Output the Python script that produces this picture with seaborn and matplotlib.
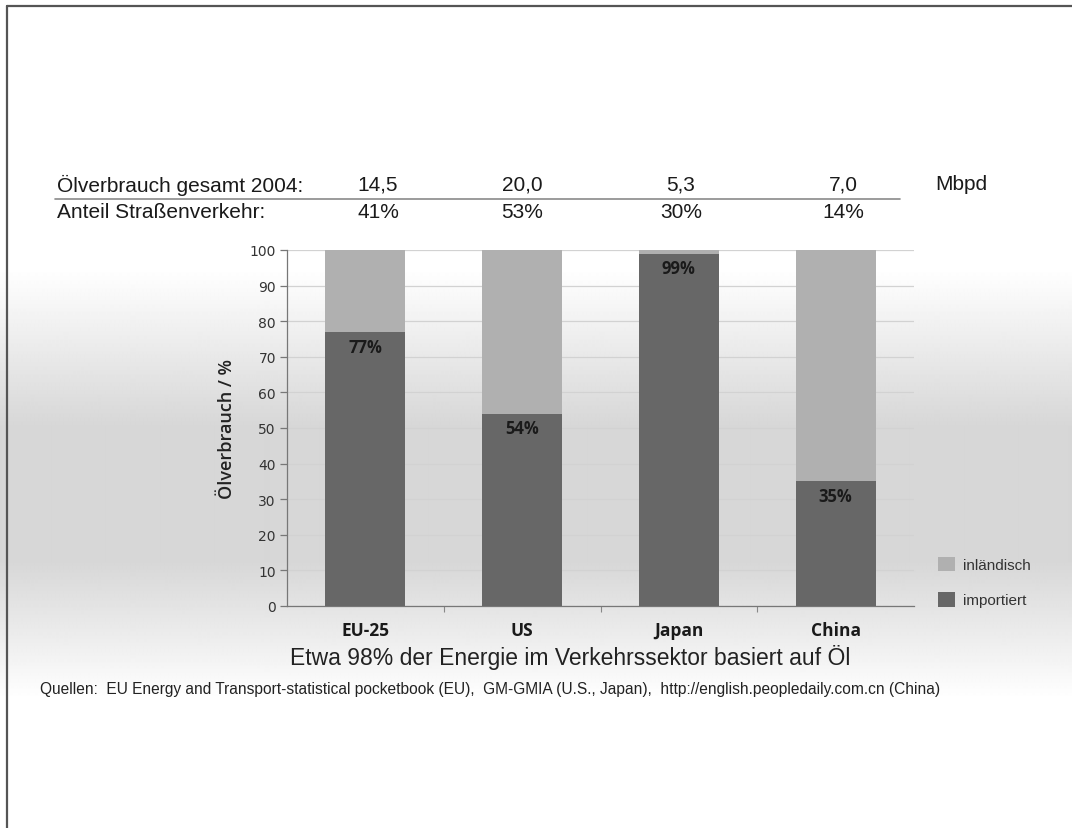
import numpy as np
import pandas as pd
import matplotlib
matplotlib.use("Agg")
import matplotlib.pyplot as plt
from matplotlib.patches import Patch
from matplotlib.lines import Line2D
import seaborn as sns

# --- data ---------------------------------------------------------------
regions = ["EU-25", "US", "Japan", "China"]
imported = [77, 54, 99, 35]          # importiert, % of oil consumption
domestic = [23, 46, 1, 65]           # inländisch, % of oil consumption
total_2004 = ["14,5", "20,0", "5,3", "7,0"]   # Mbpd
road_share = ["41%", "53%", "30%", "14%"]
y_ticks = [0, 10, 20, 30, 40, 50, 60, 70, 80, 90, 100]

df = pd.DataFrame({
    "region": regions,
    "importiert": imported,
    "inlaendisch": domestic,
})
df["gesamt"] = df["importiert"] + df["inlaendisch"]

sns.set_theme(style="white")
plt.rcParams["font.family"] = ["Liberation Sans", "DejaVu Sans"]

W, H = 1072, 829
fig = plt.figure(figsize=(W / 100, H / 100), dpi=100)
fig.patch.set_facecolor("white")

# soft vertical gradient behind the whole slide
bg = fig.add_axes([0, 0, 1, 1], zorder=-10)
rows = np.arange(H)
shade = np.interp(rows, [0, 270, 430, 560, 640, 700, H], [1.0, 1.0, 0.84, 0.84, 0.93, 1.0, 1.0])
bg.imshow(np.repeat(shade[:, None], 4, axis=1), cmap="gray", vmin=0, vmax=1,
          aspect="auto", extent=[0, 1, 0, 1], origin="upper", interpolation="bilinear")
bg.set_axis_off()

# slide frame (top and left edges)
fig.add_artist(Line2D([7 / W, 7 / W], [0, 1 - 7 / H], color="#555555", lw=1.6))
fig.add_artist(Line2D([7 / W, 1], [1 - 7 / H, 1 - 7 / H], color="#555555", lw=1.6))

# --- bar chart ----------------------------------------------------------
ax = fig.add_axes([287 / W, 1 - 607 / H, (914 - 287) / W, (607 - 251) / H])
ax.set_facecolor("none")

light = "#b0b0b0"
dark = "#676767"
sns.barplot(data=df, x="region", y="gesamt", color=light, width=0.51,
            saturation=1, ax=ax, zorder=2, linewidth=0, edgecolor="none")
sns.barplot(data=df, x="region", y="importiert", color=dark, width=0.51,
            saturation=1, ax=ax, zorder=3, linewidth=0, edgecolor="none")

for i, v in enumerate(imported):
    ax.text(i, v - 1.6, f"{v}%", ha="center", va="top", fontsize=12,
            fontweight="bold", family="Open Sans", color="#1a1a1a", zorder=4)

ax.set_ylim(0, 100)
ax.set_xlim(-0.5, len(regions) - 0.5)
ax.set_yticks(y_ticks)
ax.set_yticklabels([str(t) for t in y_ticks], family="DejaVu Sans", fontsize=10, color="#333333")
ax.yaxis.grid(True, color="#d2d2d2", lw=0.9, zorder=0)
ax.set_axisbelow(True)
ax.tick_params(axis="y", length=5, width=0.9, color="#777777", pad=3, left=True, direction="out")

ax.set_xticks(range(len(regions)))
ax.set_xticklabels(regions, family="Open Sans", fontweight="bold", fontsize=12.5, color="#1a1a1a")
ax.set_xticks(np.arange(0.5, len(regions) - 0.5, 1), minor=True)
ax.tick_params(axis="x", which="major", length=0, pad=11)
ax.tick_params(axis="x", which="minor", length=4, width=0.8, color="#888888", bottom=True, direction="out")

for side in ("top", "right"):
    ax.spines[side].set_visible(False)
ax.spines["left"].set_color("#777777")
ax.spines["bottom"].set_color("#777777")
ax.spines["left"].set_linewidth(0.9)
ax.spines["bottom"].set_linewidth(0.9)

ax.set_ylabel("Ölverbrauch / %", family="Open Sans", fontweight="semibold",
              fontsize=13, color="#222222", labelpad=10)
ax.set_xlabel("")

# caption below the categories
fig.text(570 / W, 1 - 657 / H, "Etwa 98% der Energie im Verkehrssektor basiert auf Öl",
         fontsize=16.5, ha="center", va="center", color="#222222")

# legend on the right
handles = [Patch(facecolor=light, edgecolor="none", label="inländisch"),
           Patch(facecolor=dark, edgecolor="none", label="importiert")]
fig.legend(handles=handles, loc="center left", bbox_to_anchor=(924 / W, 1 - 583 / H),
           frameon=False, fontsize=11, handlelength=1.1, handleheight=1.1,
           handletextpad=0.55, labelspacing=1.3, labelcolor="#333333")

# --- header table -------------------------------------------------------
x_cols = [378, 522, 681, 843]
row1_y, row2_y = 185, 213
tsize = 15
fig.text(57 / W, 1 - row1_y / H, "Ölverbrauch gesamt 2004:", fontsize=tsize,
         va="center", color="#1a1a1a")
fig.text(57 / W, 1 - row2_y / H, "Anteil Straßenverkehr:", fontsize=tsize,
         va="center", color="#1a1a1a")
for x, a, b in zip(x_cols, total_2004, road_share):
    fig.text(x / W, 1 - row1_y / H, a, fontsize=tsize, ha="center", va="center", color="#1a1a1a")
    fig.text(x / W, 1 - row2_y / H, b, fontsize=tsize, ha="center", va="center", color="#1a1a1a")
fig.text(935 / W, 1 - row1_y / H, "Mbpd", fontsize=tsize, va="center", color="#1a1a1a")
fig.add_artist(Line2D([55 / W, 900 / W], [1 - 200 / H, 1 - 200 / H], color="#8a8a8a", lw=1.2))

# sources
fig.text(40 / W, 1 - 690 / H,
         "Quellen:  EU Energy and Transport-statistical pocketbook (EU),  GM-GMIA (U.S., Japan),  "
         "http://english.peopledaily.com.cn (China)",
         fontsize=11.2, va="center", color="#222222")

fig.savefig("out.png", dpi=100)
